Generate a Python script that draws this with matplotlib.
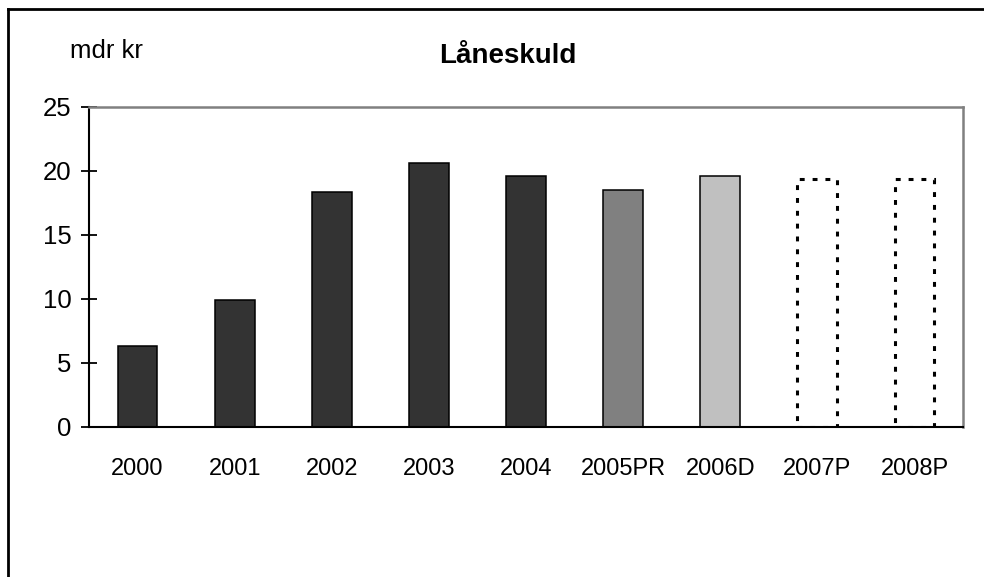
import matplotlib
matplotlib.use("Agg")
import matplotlib.pyplot as plt
from matplotlib.lines import Line2D

plt.rcParams['font.family'] = ['Liberation Sans', 'DejaVu Sans']

# Data
years = ['2000', '2001', '2002', '2003', '2004', '2005PR', '2006D', '2007P', '2008P']
debt = [6.3, 9.95, 18.35, 20.6, 19.6, 18.55, 19.6, 19.4, 19.4]
fills = ['#333333'] * 5 + ['#808080', '#c0c0c0', 'white', 'white']
dotted = [False] * 7 + [True, True]

fig = plt.figure(figsize=(9.84, 5.77), dpi=100)
ax = fig.add_axes([0.0904, 0.2600, 0.8883, 0.5546])

x = list(range(len(years)))
bars = ax.bar(x, debt, width=0.41, color=fills, edgecolor='black', linewidth=1.1, zorder=2)
for b, d in zip(bars, dotted):
    if d:
        b.set_linestyle((0, (1.6, 2.6)))
        b.set_linewidth(2.2)

ax.set_xlim(-0.5, len(years) - 0.5)
ax.set_ylim(0, 25)
ax.set_yticks([0, 5, 10, 15, 20, 25])
ax.set_xticks(x)
ax.set_xticklabels(years)

ax.tick_params(axis='y', direction='inout', length=12, width=1.3, pad=6.5, labelsize=18.5)
ax.tick_params(axis='x', length=0, pad=22.5, labelsize=17)

ax.spines['left'].set_color('black')
ax.spines['left'].set_linewidth(1.5)
ax.spines['bottom'].set_color('black')
ax.spines['bottom'].set_linewidth(1.5)
ax.spines['top'].set_color('#808080')
ax.spines['top'].set_linewidth(1.8)
ax.spines['right'].set_color('#808080')
ax.spines['right'].set_linewidth(1.8)

# Titel och enhet
fig.text(0.516, 1 - 63 / 577, 'Låneskuld', ha='center', va='baseline',
         fontsize=20, fontweight='bold')
fig.text(70 / 984, 1 - 58 / 577, 'mdr kr', ha='left', va='baseline', fontsize=18.5)

# Ram runt diagrammet (bara vänster och övre kant syns)
fig.add_artist(Line2D([8 / 984, 8 / 984], [0, 1 - 9 / 577], color='black', linewidth=2))
fig.add_artist(Line2D([8 / 984, 1], [1 - 9 / 577, 1 - 9 / 577], color='black', linewidth=2))

fig.savefig('out.png', dpi=100)
